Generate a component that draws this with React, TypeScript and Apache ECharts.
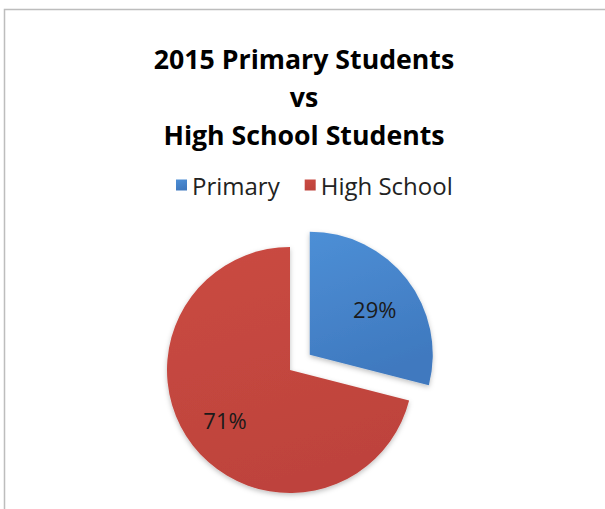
import React, { useEffect, useRef } from "react";
import * as echarts from "echarts";

const titleLines = ["2015 Primary Students", "vs", "High School Students"];
const categories = ["Primary", "High School"];
const values = [29, 71];
const colorTop = ["#4D8FD6", "#CA4A42"];
const colorBottom = ["#3F79BF", "#BE433C"];

export default function App() {
  const ref = useRef<HTMLDivElement>(null);
  useEffect(() => {
    if (!ref.current) return;
    const chart = echarts.init(ref.current, null, { renderer: "svg" });
    const labelOffsets = [
      [14, -6],
      [-14, 10],
    ];
    chart.setOption({
      animation: false,
      backgroundColor: "#ffffff",
      title: {
        text: titleLines.join("\n"),
        left: 299,
        textAlign: "center",
        top: 34,
        textStyle: {
          fontFamily: "Open Sans",
          fontWeight: "bold",
          fontSize: 26.7,
          lineHeight: 38,
          color: "#000000",
        },
      },
      legend: {
        data: categories,
        top: 168,
        left: 171,
        icon: "rect",
        itemWidth: 11,
        itemHeight: 11,
        itemGap: 25,
        textStyle: {
          fontFamily: "Open Sans",
          fontSize: 24,
          color: "#222222",
        },
      },
      graphic: [
        {
          type: "rect",
          shape: { x: 4.5, y: 9.5, width: 700, height: 600 },
          style: { fill: "none", stroke: "#BDBDBD", lineWidth: 1.5 },
          silent: true,
        },
      ],
      series: [
        {
          type: "pie",
          center: [290, 370],
          radius: 123,
          startAngle: 90,
          clockwise: true,
          selectedMode: "single",
          selectedOffset: 25,
          avoidLabelOverlap: false,
          label: {
            show: true,
            position: "inside",
            formatter: "{d}%",
            fontFamily: "Open Sans",
            fontSize: 22,
            color: "#1a1a1a",
          },
          labelLine: { show: false },
          itemStyle: {
            shadowBlur: 5,
            shadowColor: "rgba(0,0,0,0.25)",
            shadowOffsetY: 2,
          },
          emphasis: { disabled: true },
          data: categories.map((name, i) => {
            const fill = new echarts.graphic.LinearGradient(0, 0, 0.3, 1, [
              { offset: 0, color: colorTop[i] },
              { offset: 1, color: colorBottom[i] },
            ]);
            return {
              name,
              value: values[i],
              selected: i === 0,
              itemStyle: { color: fill },
              label: { offset: labelOffsets[i] },
              select: {
                itemStyle: { color: fill },
                label: { offset: labelOffsets[i] },
              },
            };
          }),
        },
      ],
    });
    return () => chart.dispose();
  }, []);
  return (
    <div
      ref={ref}
      style={{ position: "fixed", left: 0, top: 0, width: 605, height: 509 }}
    />
  );
}
